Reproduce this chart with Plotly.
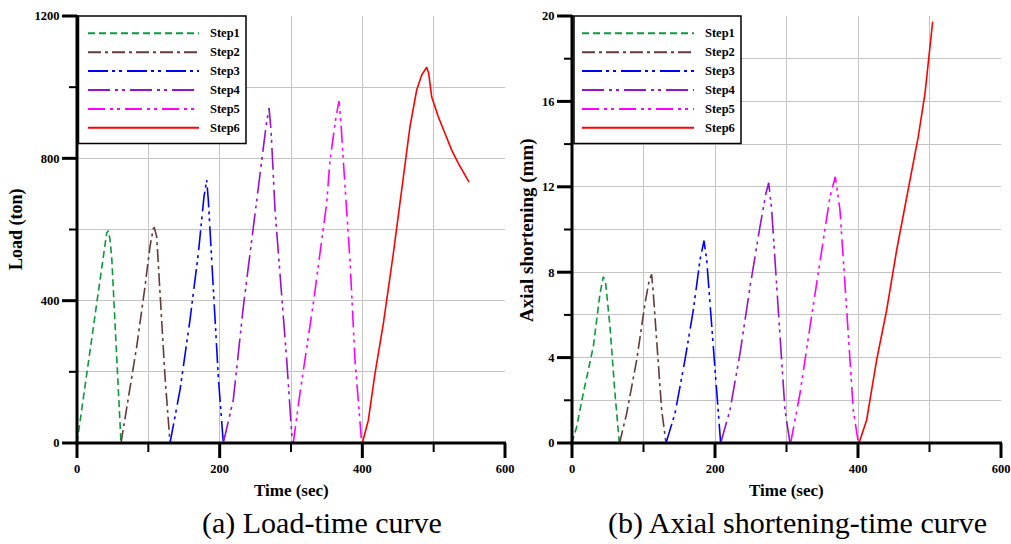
import plotly.graph_objects as go

# ---------------- data ----------------
steps = ["Step1", "Step2", "Step3", "Step4", "Step5", "Step6"]

# (a) Load-time
load_t1 = [0, 13.6, 27.6, 36.9, 41.6, 43.9, 46.0, 48.6, 53.3, 58.0, 61.7]
load_v1 = [0, 197, 393, 534, 590, 597, 575, 524, 327, 140, 0]
load_t2 = [61.7, 69.6, 83.7, 95.3, 102.3, 107.0, 108.4, 111.7, 116.4, 123.4, 130.4]
load_v2 = [0, 93, 271, 439, 552, 603, 605, 580, 421, 186, 0]
load_t3 = [130.4, 144.4, 158.4, 170.1, 178.0, 180.4, 181.8, 184.1, 191.1, 198.1, 205.1]
load_v3 = [0, 149, 346, 533, 692, 730, 739, 683, 421, 186, 0]
load_t4 = [205.1, 219.1, 233.2, 247.2, 256.6, 265.0, 269.2, 272.0, 277.6, 287.0, 294.0, 301.9]
load_v4 = [0, 121, 383, 608, 748, 890, 941, 880, 655, 421, 233, 0]
load_t5 = [303.2, 312.6, 331.3, 350.0, 354.7, 363.0, 367.3, 370.0, 373.3, 382.7, 389.7, 399.1]
load_v5 = [0, 140, 393, 674, 795, 915, 961, 900, 795, 514, 233, 0]
load_t6 = [400.0, 408.4, 417.8, 429.5, 443.5, 457.5, 466.8, 476.2, 483.2, 490.2, 493.0,
           497.2, 506.5, 515.9, 525.3, 534.6, 549.6]
load_v6 = [0, 64, 196, 336, 533, 739, 889, 992, 1034, 1056, 1039,
           973, 917, 870, 823, 786, 733]

# (b) Axial shortening-time
ax_t1 = [0, 6.5, 15.8, 29.8, 39.2, 43.8, 47.1, 53.1, 60.1, 66.2]
ax_v1 = [0, 0.76, 2.33, 4.51, 7.01, 7.79, 7.48, 5.45, 2.33, 0]
ax_t2 = [66.5, 76.5, 90.5, 102.1, 108.1, 111.4, 113.7, 118.4, 125.4, 131.5]
ax_v2 = [0, 1.39, 3.89, 6.54, 7.63, 7.90, 7.01, 4.67, 1.55, 0]
ax_t3 = [131.5, 144.1, 158.0, 169.7, 179.0, 182.8, 184.6, 188.4, 195.4, 202.4, 207.9]
ax_v3 = [0, 1.39, 3.89, 6.23, 8.57, 9.23, 9.48, 8.57, 5.45, 2.01, 0]
ax_t4 = [208.0, 221.0, 235.0, 249.0, 262.9, 271.3, 275.1, 279.3, 288.5, 297.9, 304.9]
ax_v4 = [0, 1.55, 4.20, 7.32, 10.13, 11.70, 12.19, 10.91, 6.23, 1.55, 0]
ax_t5 = [305.8, 318.9, 332.9, 346.9, 360.8, 368.3, 374.8, 384.2, 393.4, 400.5]
ax_v5 = [0, 2.33, 5.45, 8.57, 11.54, 12.47, 10.91, 6.23, 1.55, 0]
ax_t6 = [401.4, 412.1, 426.1, 440.1, 454.1, 470.4, 484.3, 493.7, 504.4]
ax_v6 = [0, 1.08, 3.89, 6.23, 9.04, 12.00, 14.35, 16.38, 19.73]

x_range = [0, 600]
load_range = [0, 1200]
ax_range = [0, 20]
x_major = [0, 200, 400, 600]
x_minor = [100, 300, 500]
load_major = [0, 400, 800, 1200]
load_minor = [200, 600, 1000]
ax_major = [0, 4, 8, 12, 16, 20]
ax_minor = [2, 6, 10, 14, 18]

# ---------------- styles ----------------
colors = ["#0a9a3c", "#663a3a", "#0000ff", "#9a10cc", "#ff00ff", "#ff0000"]
dashes = ["7px,4px", "13px,4px,3px,4px", "20px,4px,3px,4px,3px,5px",
          "22px,5px,3px,4px,3px,5px", "17px,5px,3px,4px,3px,5px", "solid"]

W, H = 1011, 544
SERIF = "Liberation Serif"


def px(x):
    return x / W


def py(y):
    return 1 - y / H


PLOT_TOP, PLOT_BOTTOM = 16, 443
LEFT_X = (77, 505)
RIGHT_X = (572, 1001)

fig = go.Figure()

load_series = [(load_t1, load_v1), (load_t2, load_v2), (load_t3, load_v3),
               (load_t4, load_v4), (load_t5, load_v5), (load_t6, load_v6)]
ax_series = [(ax_t1, ax_v1), (ax_t2, ax_v2), (ax_t3, ax_v3),
             (ax_t4, ax_v4), (ax_t5, ax_v5), (ax_t6, ax_v6)]

for i, (t, v) in enumerate(load_series):
    fig.add_trace(go.Scatter(x=t, y=v, mode="lines", name=steps[i],
                             line=dict(color=colors[i], width=1.6, dash=dashes[i]),
                             xaxis="x", yaxis="y", showlegend=False))
for i, (t, v) in enumerate(ax_series):
    fig.add_trace(go.Scatter(x=t, y=v, mode="lines", name=steps[i],
                             line=dict(color=colors[i], width=1.6, dash=dashes[i]),
                             xaxis="x2", yaxis="y2", showlegend=False))

# ---- tick marks: drawn on a full-page pixel overlay axis (x3/y3) ----
major_x, major_y, minor_x, minor_y = [], [], [], []
for (xl, xr_), yrng, ymaj, ymin in [(LEFT_X, load_range, load_major, load_minor),
                                    (RIGHT_X, ax_range, ax_major, ax_minor)]:
    def xpix(v, xl=xl, xr_=xr_):
        return xl + (v - x_range[0]) / (x_range[1] - x_range[0]) * (xr_ - xl)

    def ypix(v, yrng=yrng):
        return PLOT_BOTTOM - (v - yrng[0]) / (yrng[1] - yrng[0]) * (PLOT_BOTTOM - PLOT_TOP)

    for v in x_major:
        major_x += [xpix(v), xpix(v), None]
        major_y += [PLOT_BOTTOM, PLOT_BOTTOM + 15, None]
    for v in x_minor:
        minor_x += [xpix(v), xpix(v), None]
        minor_y += [PLOT_BOTTOM, PLOT_BOTTOM + 9, None]
    for v in ymaj:
        major_x += [xl, xl - 15, None]
        major_y += [ypix(v), ypix(v), None]
    for v in ymin:
        minor_x += [xl, xl - 8, None]
        minor_y += [ypix(v), ypix(v), None]
    # axis lines
    major_x += [xl - 1.5, xr_ + 1, None, xl, xl, None]
    major_y += [PLOT_BOTTOM, PLOT_BOTTOM, None, PLOT_BOTTOM + 1.5, PLOT_TOP - 1, None]

fig.add_trace(go.Scatter(x=major_x, y=major_y, mode="lines", connectgaps=False,
                         line=dict(color="black", width=3), xaxis="x3", yaxis="y3",
                         showlegend=False, hoverinfo="skip"))
fig.add_trace(go.Scatter(x=minor_x, y=minor_y, mode="lines", connectgaps=False,
                         line=dict(color="black", width=2), xaxis="x3", yaxis="y3",
                         showlegend=False, hoverinfo="skip"))

grid = "#c4c4c4"
tickfont = dict(family=SERIF, size=12.5, color="black", weight="bold")


def axis_cfg(domain, anchor, rng, tickvals, minor_dtick):
    return dict(domain=domain, anchor=anchor, range=rng, autorange=False,
                automargin=False, tickmode="array", tickvals=tickvals,
                ticks="outside", ticklen=14, tickwidth=1, tickcolor="rgba(0,0,0,0)",
                showline=False, showgrid=True, gridcolor=grid, gridwidth=1,
                zeroline=False, tickfont=tickfont, fixedrange=True,
                minor=dict(dtick=minor_dtick, tick0=0, showgrid=True,
                           gridcolor=grid, gridwidth=1))


hidden = dict(visible=False, showgrid=False, zeroline=False, showline=False,
              showticklabels=False, ticks="", fixedrange=True, automargin=False)

ydom = [py(PLOT_BOTTOM), py(PLOT_TOP)]
fig.update_layout(
    template="none",
    width=W, height=H,
    margin=dict(l=0, r=0, t=0, b=0, autoexpand=False),
    paper_bgcolor="white", plot_bgcolor="rgba(0,0,0,0)",
    showlegend=False, dragmode=False,
    xaxis=axis_cfg([px(LEFT_X[0]), px(LEFT_X[1])], "y", x_range, x_major, 100),
    yaxis=axis_cfg(ydom, "x", load_range, load_major, 200),
    xaxis2=axis_cfg([px(RIGHT_X[0]), px(RIGHT_X[1])], "y2", x_range, x_major, 100),
    yaxis2=axis_cfg(ydom, "x2", ax_range, ax_major, 2),
    xaxis3=dict(domain=[0, 1], anchor="y3", range=[0, W], autorange=False, **hidden),
    yaxis3=dict(domain=[0, 1], anchor="x3", range=[H, 0], autorange=False, **hidden),
)

shapes = []
annotations = []

# legends (drawn as shapes + text)
for (bx0, bx1, lx0, lx1, tx) in [(78.5, 246, 88, 199, 208), (574, 741, 582, 694, 703)]:
    shapes.append(dict(type="rect", xref="paper", yref="paper",
                       x0=px(bx0), x1=px(bx1), y0=py(143.5), y1=py(16),
                       line=dict(color="black", width=1.5), fillcolor="white",
                       layer="above"))
    for i, s in enumerate(steps):
        yy = 33.3 + 18.9 * i
        shapes.append(dict(type="line", xref="paper", yref="paper",
                           x0=px(lx0), x1=px(lx1), y0=py(yy), y1=py(yy),
                           line=dict(color=colors[i], width=2, dash=dashes[i]),
                           layer="above"))
        annotations.append(dict(text=s, xref="paper", yref="paper", x=px(tx), y=py(yy),
                                xanchor="left", yanchor="middle", showarrow=False,
                                font=dict(family=SERIF, size=12.5, color="black",
                                          weight="bold")))

# axis titles and captions
title_font = dict(family=SERIF, size=17, color="black", weight="bold")
annotations += [
    dict(text="Time (sec)", xref="paper", yref="paper", x=px(291), y=py(490),
         xanchor="center", yanchor="middle", showarrow=False, font=title_font),
    dict(text="Time (sec)", xref="paper", yref="paper", x=px(786), y=py(490),
         xanchor="center", yanchor="middle", showarrow=False, font=title_font),
    dict(text="Load (ton)", xref="paper", yref="paper", x=px(17), y=py(229),
         xanchor="center", yanchor="middle", showarrow=False, textangle=-90,
         font=dict(family=SERIF, size=18, color="black", weight="bold")),
    dict(text="Axial shortening (mm)", xref="paper", yref="paper", x=px(527), y=py(230),
         xanchor="center", yanchor="middle", showarrow=False, textangle=-90,
         font=dict(family=SERIF, size=19, color="black", weight="bold")),
    dict(text="(a) Load-time curve", xref="paper", yref="paper", x=px(322), y=py(523),
         xanchor="center", yanchor="middle", showarrow=False,
         font=dict(family=SERIF, size=30, color="black")),
    dict(text="(b) Axial shortening-time curve", xref="paper", yref="paper", x=px(797),
         y=py(523), xanchor="center", yanchor="middle", showarrow=False,
         font=dict(family=SERIF, size=30, color="black")),
]

fig.update_layout(shapes=shapes, annotations=annotations)
fig.write_html("out.html", config={"staticPlot": True, "displayModeBar": False})
